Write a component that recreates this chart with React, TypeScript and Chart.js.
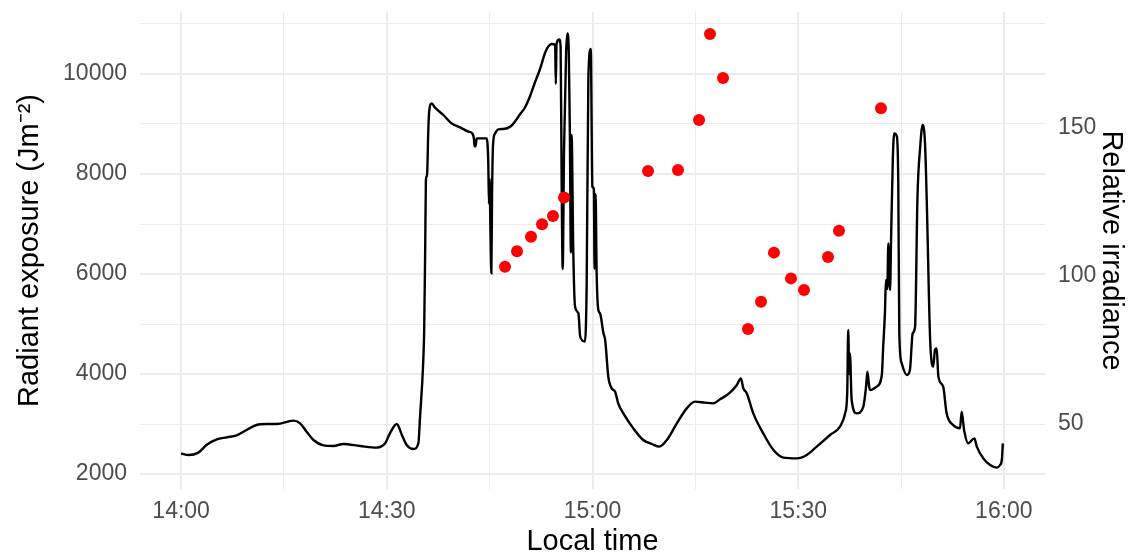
import React, { useEffect, useRef } from "react";
import { Chart, registerables } from "chart.js";

Chart.register(...registerables);

// Black line: minutes after 14:00 and radiant exposure (J m^-2)
const lineTimes = [
  0, 1.05, 2.5, 3.7, 5.2, 6.65, 8.1, 9.55, 11.0, 12.5, 13.95, 16.35, 17.35, 18.3, 19.3, 20.75,
  22.2, 23.65, 26.1, 28.55, 29.75, 30.45, 31.45, 32.2, 32.9, 33.9, 34.6, 34.85, 35.3, 35.45,
  35.6, 35.7, 35.8, 35.9, 36.05, 36.2, 36.55, 37.0, 38.25, 39.45, 40.7, 41.9, 42.45, 42.7,
  42.8, 42.95, 43.1, 44.55, 44.8, 44.9, 45.0, 45.1, 45.25, 45.35, 45.5, 45.8, 46.25, 47.0,
  48.05, 48.7, 49.45, 50.15, 50.9, 51.6, 52.35, 53.1, 53.55, 54.05, 54.55, 54.65, 54.75,
  55.15, 55.35, 55.5, 55.65, 55.85, 56.15, 56.35, 56.55, 56.7, 56.85, 56.95, 57.2, 57.45,
  57.95, 58.2, 58.9, 59.15, 59.4, 59.75, 59.98, 60.2, 60.3, 60.45, 60.6, 60.85, 61.1, 61.6,
  61.85, 62.3, 62.8, 63.3, 63.75, 64.5, 65.95, 67.4, 68.65, 69.75, 70.85, 72.3, 73.75, 74.95,
  76.4, 77.6, 78.6, 80.05, 81.05, 81.65, 82.0, 82.5, 83.45, 84.9, 86.4, 87.85, 89.8, 91.25,
  92.7, 94.65, 96.1, 96.85, 97.15, 97.3, 97.45, 97.55, 97.8, 98.55, 99.5, 99.9, 100.1,
  100.35, 100.5, 101.45, 102.2, 102.4, 102.65, 102.8, 103.0, 103.15, 103.4, 103.55, 103.8,
  104.0, 104.4, 104.6, 104.75, 105.1, 105.85, 106.3, 106.7, 107.05, 107.4, 107.8, 108.15,
  108.5, 108.75, 109.25, 109.7, 109.95, 110.2, 110.45, 111.15, 111.65, 112.6, 113.6, 113.85,
  114.2, 114.8, 115.7, 116.05, 117.0, 118.0, 118.95, 119.45, 119.7, 119.85,
];
const lineValues = [
  2410, 2380, 2427, 2580, 2693, 2733, 2773, 2880, 2980, 3000, 3000, 3067, 3013, 2847, 2680, 2573,
  2560, 2600, 2560, 2527, 2613, 2813, 3000, 2780, 2580, 2500, 2613, 3147, 4213, 4880,
  6547, 7880, 7950, 8050, 8880, 9280, 9413, 9333, 9180, 9013, 8933, 8847, 8813, 8713,
  8553, 8553, 8713, 8713, 8213, 7400, 7900, 7000, 6013, 7600, 8600, 8813, 8893, 8900,
  8950, 9050, 9200, 9330, 9560, 9830, 10100, 10430, 10550, 10600, 10580, 9800, 10600,
  10690, 10550, 7850, 6100, 8500, 10430, 10810, 10370, 8830, 6430, 8780, 6430, 5350,
  5210, 4750, 4650, 5800, 9950, 10500, 7750, 7700, 6100, 7600, 6050, 5280, 5213, 4813,
  4680, 3950, 3713, 3647, 3413, 3213, 2913, 2680, 2600, 2547, 2680, 3013, 3313, 3447,
  3427, 3413, 3493, 3627, 3780, 3913, 3713, 3613, 3213, 2813, 2480, 2327, 2313, 2380,
  2547, 2780, 2947, 3213, 3613, 4880, 4000, 4413, 3480, 3213, 3347, 3747, 4047,
  3747, 3680, 3747, 3980, 4547, 5213, 5880, 5700, 6613, 5680, 6700, 8280,
  8813, 8747, 7813, 4813, 4213, 3980, 4080, 4813, 4947, 7547, 8547, 8980,
  8613, 7480, 4680, 4147, 4480, 4513, 3947, 3747, 3213, 2980, 2913, 3247,
  2880, 2613, 2713, 2547, 2313, 2180, 2127, 2180, 2280, 2613,
];

// Red points: minutes after 14:00 and relative irradiance
const pointTimes = [
  47.24, 48.99, 51.03, 52.64, 54.24, 55.85, 68.1, 72.47, 75.54, 77.14, 79.04, 82.68, 84.58,
  86.47, 88.95, 90.85, 94.35, 95.95, 102.08,
];
const pointValues = [
  103.1, 108.4, 113.3, 117.5, 120.3, 126.5, 135.5, 135.8, 152.7, 181.8, 166.9, 82.1, 91.3,
  107.9, 99.2, 95.3, 106.4, 115.3, 156.7,
];

const xTickValues = [0, 15, 30, 45, 60, 75, 90, 105, 120];
const yTickValues = [2000, 3000, 4000, 5000, 6000, 7000, 8000, 9000, 10000, 11000];
const y2TickValues = [50, 100, 150];

const fmtTime = (m: number) => {
  const h = 14 + Math.floor(m / 60);
  const mm = m % 60;
  return `${h}:${String(mm).padStart(2, "0")}`;
};

const noPad = (s: any) => {
  s.paddingTop = 0;
  s.paddingBottom = 0;
  s.paddingLeft = 0;
  s.paddingRight = 0;
};

export default function App() {
  const ref = useRef<HTMLCanvasElement>(null);

  useEffect(() => {
    document.body.style.margin = "0";
    const canvas = ref.current;
    if (!canvas) return;
    Chart.defaults.font.family = "'Liberation Sans', Arial, sans-serif";
    const tickFont = { size: 23 };
    const titleFont = { size: 29 };
    const chart = new Chart(canvas, {
      type: "line",
      data: {
        datasets: [
          {
            type: "scatter",
            data: pointTimes.map((t, i) => ({ x: t, y: pointValues[i] })),
            yAxisID: "y2",
            backgroundColor: "#FF0000",
            borderWidth: 0,
            pointRadius: 6,
            pointHoverRadius: 6,
            order: 0,
          } as any,
          {
            type: "line",
            data: lineTimes.map((t, i) => ({ x: t, y: lineValues[i] })),
            yAxisID: "y",
            borderColor: "#000000",
            borderWidth: 2.4,
            pointRadius: 0,
            cubicInterpolationMode: "monotone",
            fill: false,
            order: 1,
          },
        ],
      },
      options: {
        responsive: false,
        animation: false,
        layout: { padding: { top: 12, left: 0, right: 0, bottom: 0 } },
        plugins: { legend: { display: false }, tooltip: { enabled: false } },
        scales: {
          x: {
            type: "linear",
            position: "bottom",
            min: -6,
            max: 126,
            afterBuildTicks: (s: any) => {
              s.ticks = xTickValues.map((v) => ({ value: v }));
            },
            afterFit: (s: any) => {
              s.height = 67;
              noPad(s);
            },
            ticks: {
              autoSkip: false,
              maxRotation: 0,
              padding: 9,
              color: "#4D4D4D",
              font: tickFont,
              callback: (v: any) => (Number(v) % 30 === 0 ? fmtTime(Number(v)) : ""),
            },
            grid: {
              color: "#EBEBEB",
              lineWidth: (c: any) => (c.tick && c.tick.value % 30 === 0 ? 2 : 1),
              drawTicks: false,
            },
            border: { display: false },
            title: {
              display: true,
              text: "Local time",
              color: "#000000",
              font: titleFont,
              padding: { top: 0, bottom: -3.6 },
            },
          },
          y: {
            type: "linear",
            position: "left",
            min: 1700,
            max: 11240,
            afterBuildTicks: (s: any) => {
              s.ticks = yTickValues.map((v) => ({ value: v }));
            },
            afterFit: (s: any) => {
              s.width = 140;
              noPad(s);
            },
            ticks: {
              autoSkip: false,
              padding: 13,
              color: "#4D4D4D",
              font: tickFont,
              callback: (v: any) => (Number(v) % 2000 === 0 ? String(v) : ""),
            },
            grid: {
              color: "#EBEBEB",
              lineWidth: (c: any) => (c.tick && c.tick.value % 2000 === 0 ? 2 : 1),
              drawTicks: false,
            },
            border: { display: false },
            title: {
              display: true,
              text: "Radiant exposure (Jm⁻²)",
              color: "#000000",
              font: titleFont,
              padding: { top: 12.6, bottom: 0 },
            },
          },
          y2: {
            type: "linear",
            position: "right",
            min: 28.04,
            max: 189.2,
            afterBuildTicks: (s: any) => {
              s.ticks = y2TickValues.map((v) => ({ value: v }));
            },
            afterFit: (s: any) => {
              s.width = 87;
              noPad(s);
            },
            ticks: {
              autoSkip: false,
              padding: 13,
              color: "#4D4D4D",
              font: tickFont,
              callback: (v: any) => String(v),
            },
            grid: { display: false, drawTicks: false },
            border: { display: false },
            title: {
              display: true,
              text: "Relative irradiance",
              color: "#000000",
              font: titleFont,
              padding: { top: 3.6, bottom: 0 },
            },
          },
        },
      } as any,
    });
    return () => chart.destroy();
  }, []);

  return (
    <div style={{ width: 1132, height: 556 }}>
      <canvas ref={ref} width={1132} height={556} style={{ display: "block" }} />
    </div>
  );
}
